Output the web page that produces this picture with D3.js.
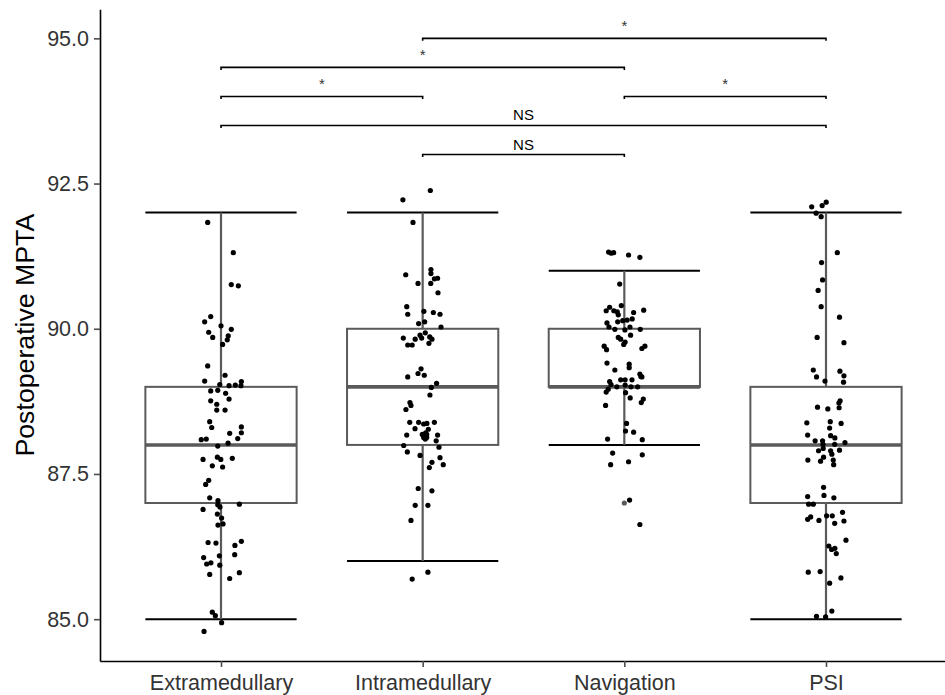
<!DOCTYPE html>
<html>
<head>
<meta charset="utf-8">
<script src="https://cdn.jsdelivr.net/npm/d3@7"></script>
<style>
  body { margin: 0; background: #fff; }
  svg { display: block; font-family: "Liberation Sans", Arial, Helvetica, sans-serif; }
</style>
</head>
<body>
<div id="chart"></div>
<script>
// groups on the x axis
const categories = ['Extramedullary', 'Intramedullary', 'Navigation', 'PSI'];
const yTicks = [85, 87.5, 90, 92.5, 95];
const yTitle = 'Postoperative MPTA';

// boxplot stats, one per category
const whiskerLow = [85, 86, 88, 85];
const q1 = [87, 88, 89, 87];
const medians = [88, 89, 89, 88];
const q3 = [89, 90, 90, 89];
const whiskerHigh = [92, 92, 91, 92];
const outliers = [[], [], [87], []];

// jittered points: value + horizontal offset (fraction of the band step)
const extraValues = [91.83, 91.31, 90.76, 90.74, 90.21, 90.12, 90.05, 89.99, 89.94, 89.88,
  89.85, 89.81, 89.73, 89.36, 89.20, 89.10, 89.09, 89.04, 89.02, 89.03,
  89.02, 88.93, 88.94, 88.89, 88.79, 88.76, 88.70, 88.60, 88.60, 88.40,
  88.30, 88.31, 88.21, 88.20, 88.11, 88.09, 88.10, 88.03, 87.98, 87.75,
  87.79, 87.75, 87.77, 87.64, 87.62, 87.39, 87.32, 87.09, 87.04, 86.98,
  86.97, 86.93, 86.89, 86.81, 86.74, 86.62, 86.64, 86.32, 86.31, 86.34,
  86.27, 86.06, 86.09, 86.11, 85.95, 85.97, 85.93, 85.77, 85.80, 85.70,
  85.12, 85.06, 84.94, 84.79];
const extraJitter = [-0.066, 0.061, 0.051, 0.086, -0.051, -0.081, 0.000, 0.051, -0.061, 0.036,
  -0.041, 0.031, 0.008, -0.066, 0.020, -0.081, 0.101, -0.006, 0.040, 0.071,
  0.099, -0.051, -0.016, 0.023, 0.040, -0.051, -0.021, -0.021, 0.020, -0.056,
  -0.046, 0.101, 0.101, 0.043, 0.083, -0.098, -0.073, 0.035, -0.016, -0.089,
  -0.018, -0.001, 0.056, -0.043, 0.008, -0.061, -0.076, -0.056, -0.015, 0.091,
  -0.016, -0.005, -0.089, -0.018, 0.003, -0.015, 0.010, -0.064, -0.025, 0.101,
  0.069, -0.086, -0.008, 0.068, -0.071, -0.050, -0.006, -0.056, 0.091, 0.043,
  -0.043, -0.028, 0.003, -0.084];

const intraValues = [92.38, 92.22, 91.83, 91.02, 90.93, 90.95, 90.87, 90.86, 90.78, 90.78,
  90.62, 90.38, 90.25, 90.30, 90.28, 90.25, 90.09, 90.12, 90.03, 89.93,
  89.89, 89.86, 89.84, 89.82, 89.84, 89.82, 89.75, 89.72, 89.72, 89.31,
  89.23, 89.20, 89.17, 89.06, 88.99, 88.86, 88.73, 88.68, 88.61, 88.39,
  88.39, 88.36, 88.37, 88.39, 88.28, 88.27, 88.21, 88.18, 88.18, 88.17,
  88.17, 88.13, 88.13, 88.10, 88.07, 87.99, 87.96, 87.88, 87.82, 87.78,
  87.70, 87.66, 87.61, 87.25, 87.21, 86.96, 86.96, 86.70, 85.81, 85.69];
const intraJitter = [0.038, -0.098, -0.048, 0.041, -0.084, 0.041, 0.074, 0.058, -0.023, 0.040,
  0.076, -0.079, -0.074, 0.006, 0.053, 0.086, -0.020, 0.010, 0.091, 0.013,
  -0.013, 0.035, -0.096, -0.037, -0.005, 0.046, 0.031, -0.074, -0.052, -0.008,
  -0.023, 0.008, -0.074, 0.069, 0.043, 0.036, -0.063, -0.058, -0.083, -0.064,
  -0.020, 0.005, 0.021, 0.058, -0.038, 0.028, 0.015, 0.020, -0.002, -0.079,
  0.074, 0.005, 0.020, 0.013, 0.067, -0.094, 0.081, -0.076, -0.013, 0.086,
  0.046, 0.102, 0.033, -0.022, 0.046, -0.037, 0.026, -0.058, 0.026, -0.052];

const navValues = [91.32, 91.30, 91.31, 91.27, 91.23, 90.77, 90.40, 90.37, 90.31, 90.31,
  90.29, 90.24, 90.28, 90.32, 90.12, 90.14, 90.15, 90.17, 90.10, 90.03,
  89.99, 89.98, 90.03, 89.99, 89.85, 89.82, 89.89, 89.77, 89.73, 89.70,
  89.64, 89.70, 89.66, 89.41, 89.39, 89.33, 89.29, 89.22, 89.18, 89.09,
  89.12, 89.12, 89.12, 89.17, 89.04, 89.00, 89.03, 89.00, 89.00, 88.96,
  88.91, 88.90, 88.81, 88.79, 88.73, 88.68, 88.37, 88.24, 88.22, 88.10,
  88.09, 87.86, 87.83, 87.66, 87.71, 87.05, 86.63];
const navJitter = [-0.078, -0.065, -0.053, 0.021, 0.077, -0.023, -0.015, -0.073, -0.090, -0.052,
  -0.035, -0.030, 0.046, 0.096, -0.033, -0.008, 0.014, 0.039, -0.086, -0.076,
  -0.047, 0.003, 0.028, 0.079, -0.030, -0.018, 0.031, 0.004, -0.003, -0.100,
  -0.088, 0.102, 0.087, -0.086, 0.024, 0.024, -0.047, 0.077, 0.082, -0.073,
  -0.018, 0.004, 0.038, 0.087, -0.066, -0.037, 0.004, 0.033, 0.066, -0.080,
  -0.090, 0.006, 0.029, 0.094, 0.084, -0.093, 0.011, 0.006, 0.046, -0.083,
  0.089, -0.058, 0.089, -0.068, 0.021, 0.026, 0.077];

const psiValues = [92.18, 92.12, 92.10, 91.99, 91.93, 91.31, 91.14, 90.84, 90.66, 90.38,
  90.20, 89.85, 89.76, 89.29, 89.27, 89.19, 89.17, 89.10, 89.08, 88.76,
  88.72, 88.65, 88.62, 88.64, 88.38, 88.40, 88.37, 88.29, 88.17, 88.16,
  88.12, 88.07, 88.07, 88.04, 88.01, 88.01, 87.90, 87.94, 87.90, 87.91,
  87.84, 87.79, 87.74, 87.72, 87.74, 87.66, 87.27, 87.13, 87.11, 87.09,
  86.98, 86.98, 86.84, 86.76, 86.72, 86.70, 86.78, 86.78, 86.65, 86.69,
  86.36, 86.26, 86.22, 86.20, 86.13, 85.81, 85.82, 85.71, 85.62, 85.14,
  85.05, 85.04];
const psiJitter = [0.001, -0.019, -0.071, -0.049, -0.024, 0.056, -0.022, -0.017, -0.039, -0.024,
  0.067, -0.044, 0.089, -0.063, 0.069, 0.089, -0.047, -0.005, 0.087, 0.070,
  0.064, -0.042, 0.009, 0.065, -0.095, 0.021, 0.075, 0.018, -0.091, 0.023,
  0.044, -0.054, -0.017, 0.094, -0.015, 0.043, -0.037, -0.014, 0.023, 0.067,
  0.029, -0.012, -0.090, -0.027, 0.036, 0.038, -0.012, -0.010, -0.091, 0.039,
  -0.086, -0.063, 0.082, -0.076, -0.091, -0.035, 0.003, 0.031, 0.043, 0.089,
  0.099, 0.014, 0.044, 0.028, 0.051, -0.088, -0.029, 0.074, 0.018, 0.029,
  -0.047, -0.002];

// significance brackets
const compFrom = ['Intramedullary', 'Extramedullary', 'Extramedullary', 'Navigation', 'Extramedullary', 'Intramedullary'];
const compTo = ['PSI', 'Navigation', 'Intramedullary', 'PSI', 'PSI', 'Navigation'];
const compY = [95.0, 94.5, 94.0, 94.0, 93.5, 93.0];
const compLabel = ['*', '*', '*', '*', 'NS', 'NS'];

const pointValues = [extraValues, intraValues, navValues, psiValues];
const pointJitter = [extraJitter, intraJitter, navJitter, psiJitter];

const width = 945;
const height = 695;
const panel = { left: 100, right: 947, top: 9.3, bottom: 661 };

const svg = d3.select('#chart')
  .append('svg')
  .attr('width', width)
  .attr('height', height);

const x = d3.scalePoint()
  .domain(categories)
  .range([panel.left, panel.right])
  .padding(0.6);

const y = d3.scaleLinear()
  .domain([84.28, 95.5])
  .range([panel.bottom, panel.top]);

const step = x.step();
const boxW = step * 0.75;

const stats = categories.map((c, i) => ({
  cat: c, lo: whiskerLow[i], q1: q1[i], med: medians[i], q3: q3[i], hi: whiskerHigh[i]
}));

// error bar caps (black)
const g = svg.append('g');
g.selectAll('.cap')
  .data(stats.flatMap(d => [{ cat: d.cat, v: d.lo }, { cat: d.cat, v: d.hi }]))
  .join('line')
  .attr('x1', d => x(d.cat) - boxW / 2)
  .attr('x2', d => x(d.cat) + boxW / 2)
  .attr('y1', d => y(d.v))
  .attr('y2', d => y(d.v))
  .attr('stroke', '#000')
  .attr('stroke-width', 2);

// whiskers
g.selectAll('.whisker')
  .data(stats)
  .join('line')
  .attr('x1', d => x(d.cat))
  .attr('x2', d => x(d.cat))
  .attr('y1', d => y(d.lo))
  .attr('y2', d => y(d.hi))
  .attr('stroke', '#5a5a5a')
  .attr('stroke-width', 2.2);

// boxes
g.selectAll('.box')
  .data(stats)
  .join('rect')
  .attr('x', d => x(d.cat) - boxW / 2)
  .attr('width', boxW)
  .attr('y', d => y(d.q3))
  .attr('height', d => y(d.q1) - y(d.q3))
  .attr('fill', '#fff')
  .attr('stroke', '#5a5a5a')
  .attr('stroke-width', 2);

// medians
g.selectAll('.median')
  .data(stats)
  .join('line')
  .attr('x1', d => x(d.cat) - boxW / 2)
  .attr('x2', d => x(d.cat) + boxW / 2)
  .attr('y1', d => y(d.med))
  .attr('y2', d => y(d.med))
  .attr('stroke', '#5a5a5a')
  .attr('stroke-width', 3.6);

// boxplot outliers (grey)
g.selectAll('.outlier')
  .data(categories.flatMap((c, i) => outliers[i].map(v => ({ cat: c, v }))))
  .join('circle')
  .attr('cx', d => x(d.cat))
  .attr('cy', d => y(d.v))
  .attr('r', 2.6)
  .attr('fill', '#5a5a5a');

// jittered points
const points = categories.flatMap((c, i) =>
  pointValues[i].map((v, k) => ({ cat: c, v, j: pointJitter[i][k] })));
g.selectAll('.pt')
  .data(points)
  .join('circle')
  .attr('cx', d => x(d.cat) + d.j * step)
  .attr('cy', d => y(d.v))
  .attr('r', 2.6)
  .attr('fill', '#000');

// significance brackets
const comps = compY.map((v, i) => ({ a: compFrom[i], b: compTo[i], v, label: compLabel[i] }));
const tip = 2.5;
g.selectAll('.bracket')
  .data(comps)
  .join('path')
  .attr('d', d => {
    const x1 = x(d.a), x2 = x(d.b), yy = y(d.v);
    return `M${x1},${yy + tip}V${yy}H${x2}V${yy + tip}`;
  })
  .attr('fill', 'none')
  .attr('stroke', '#000')
  .attr('stroke-width', 1.6);

g.selectAll('.sig')
  .data(comps)
  .join('text')
  .attr('x', d => (x(d.a) + x(d.b)) / 2)
  .attr('y', d => y(d.v) - (d.label === '*' ? 7 : 5))
  .attr('text-anchor', 'middle')
  .attr('font-size', 15)
  .attr('fill', d => d.label === '*' ? '#333' : '#000')
  .text(d => d.label);

// axes
const yAxis = svg.append('g')
  .attr('transform', `translate(${panel.left},0)`)
  .call(d3.axisLeft(y).tickValues(yTicks).tickFormat(d3.format('.1f')).tickSize(6).tickSizeOuter(0).tickPadding(5));

const xAxis = svg.append('g')
  .attr('transform', `translate(0,${panel.bottom})`)
  .call(d3.axisBottom(x).tickSize(6).tickSizeOuter(0).tickPadding(8));

[yAxis, xAxis].forEach(ax => {
  ax.select('.domain').attr('stroke', '#000').attr('stroke-width', 1.6);
  ax.selectAll('.tick line').attr('stroke', '#4d4d4d').attr('stroke-width', 1.6);
  ax.selectAll('.tick text')
    .attr('font-family', '"Liberation Sans", Arial, Helvetica, sans-serif')
    .attr('font-size', 21.5)
    .attr('fill', '#333');
});

// y title
svg.append('text')
  .attr('transform', `translate(34,${(panel.top + panel.bottom) / 2}) rotate(-90)`)
  .attr('text-anchor', 'middle')
  .attr('font-size', 26.7)
  .attr('fill', '#000')
  .text(yTitle);
</script>
</body>
</html>
